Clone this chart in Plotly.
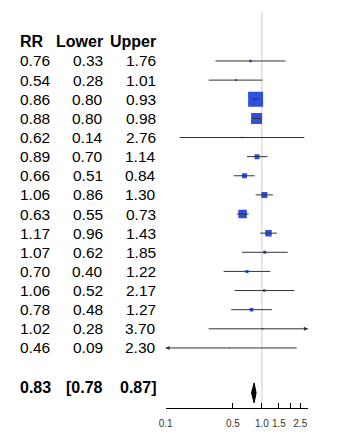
import numpy as np
import plotly.graph_objects as go

# forest plot: relative risks with 95% CI, one row per study
rr = [0.76, 0.54, 0.86, 0.88, 0.62, 0.89, 0.66, 1.06, 0.63, 1.17, 1.07, 0.70, 1.06, 0.78, 1.02, 0.46]
lower = [0.33, 0.28, 0.80, 0.80, 0.14, 0.70, 0.51, 0.86, 0.55, 0.96, 0.62, 0.40, 0.52, 0.48, 0.28, 0.09]
upper = [1.76, 1.01, 0.93, 0.98, 2.76, 1.14, 0.84, 1.30, 0.73, 1.43, 1.85, 1.22, 2.17, 1.27, 3.70, 2.30]
# relative box weights (square side in px)
weights = [2.5, 2, 15, 11, 1.5, 5, 5, 6, 8.5, 6.5, 3, 3, 2.5, 3.5, 1.5, 1]

summary_rr, summary_lo, summary_hi = 0.83, 0.78, 0.87
headers = ["RR", "Lower", "Upper"]

tick_vals = [0.1, 0.5, 1.0, 1.5, 2.0, 2.5, 3.0]
tick_text = ["0.1", "0.5", "1.0", "1.5", "", "2.5", ""]
xmin, xmax = 0.1, 3.0

rows = list(range(len(rr)))
summary_row = 17.05
diamond_row = 17.35
line_col = "#333333"

# page has an 8px body margin, so the figure is 8px smaller than the window
W, H = 347, 429

fig = go.Figure()

# reference line at 1
fig.add_trace(go.Scatter(x=[1, 1], y=[-2.56, 18.2], mode="lines",
                         line=dict(color="#cccccc", width=1), hoverinfo="skip"))

# boxes
fig.add_trace(go.Scatter(x=rr, y=rows, mode="markers",
                         marker=dict(symbol="square", size=weights, color="#2f50dc",
                                     opacity=1, line=dict(width=0)),
                         hoverinfo="skip"))

# confidence interval lines (clipped to axis range, arrows where clipped)
for i in rows:
    lo = max(lower[i], xmin)
    hi = min(upper[i], xmax)
    fig.add_trace(go.Scatter(x=[lo, hi], y=[i, i], mode="lines",
                             line=dict(color=line_col, width=1), hoverinfo="skip"))
    if upper[i] > xmax:
        fig.add_annotation(x=np.log10(hi), y=i, ax=np.log10(hi) - 0.05, ay=i,
                           xref="x", yref="y", axref="x", ayref="y", text="",
                           showarrow=True, arrowhead=2, arrowsize=0.8,
                           arrowwidth=1, arrowcolor=line_col)
    if lower[i] < xmin:
        fig.add_annotation(x=np.log10(lo), y=i, ax=np.log10(lo) + 0.05, ay=i,
                           xref="x", yref="y", axref="x", ayref="y", text="",
                           showarrow=True, arrowhead=2, arrowsize=0.8,
                           arrowwidth=1, arrowcolor=line_col)

# summary diamond
fig.add_trace(go.Scatter(x=[summary_lo, summary_rr, summary_hi, summary_rr, summary_lo],
                         y=[diamond_row, diamond_row - 0.52, diamond_row,
                            diamond_row + 0.52, diamond_row],
                         mode="lines", fill="toself", fillcolor="black",
                         line=dict(color="black", width=1), hoverinfo="skip"))

# text table
font = dict(family="Liberation Sans, Arial, sans-serif", size=15.5, color="black")
bold = dict(font, size=16, weight="bold")
col_x = [3 / W, 92 / W, 145.5 / W]
col_anchor = ["left", "right", "right"]

for c, h in enumerate(headers):
    fig.add_annotation(x=col_x[c], y=-1, xref="paper", yref="y", text=h,
                       showarrow=False, xanchor=col_anchor[c], font=bold)
for i in rows:
    for c, v in enumerate([rr[i], lower[i], upper[i]]):
        fig.add_annotation(x=col_x[c], y=i, xref="paper", yref="y", text=f"{v:.2f}",
                           showarrow=False, xanchor=col_anchor[c], font=font)
summary_txt = [f"{summary_rr:.2f}", f"[{summary_lo:.2f}", f"{summary_hi:.2f}]"]
for c, t in enumerate(summary_txt):
    fig.add_annotation(x=col_x[c], y=summary_row, xref="paper", yref="y", text=t,
                       showarrow=False, xanchor=col_anchor[c], font=bold)

fig.update_layout(
    width=W, height=H,
    margin=dict(l=0, r=0, t=0, b=29),
    paper_bgcolor="white", plot_bgcolor="white",
    showlegend=False,
    xaxis=dict(type="log", range=[np.log10(xmin), np.log10(xmax)],
               domain=[153.7 / W, 298.9 / W],
               tickvals=tick_vals, ticktext=tick_text,
               ticks="inside", ticklen=5, tickcolor="black", tickwidth=1,
               showline=True, linecolor="black", linewidth=1,
               showgrid=False, zeroline=False,
               tickfont=dict(family="Liberation Sans, Arial, sans-serif", size=10, color="#333333"),
               ticklabelstandoff=6),
    yaxis=dict(range=[18.14, -2.77], visible=False, showgrid=False, zeroline=False),
)

fig.write_html("out.html")
